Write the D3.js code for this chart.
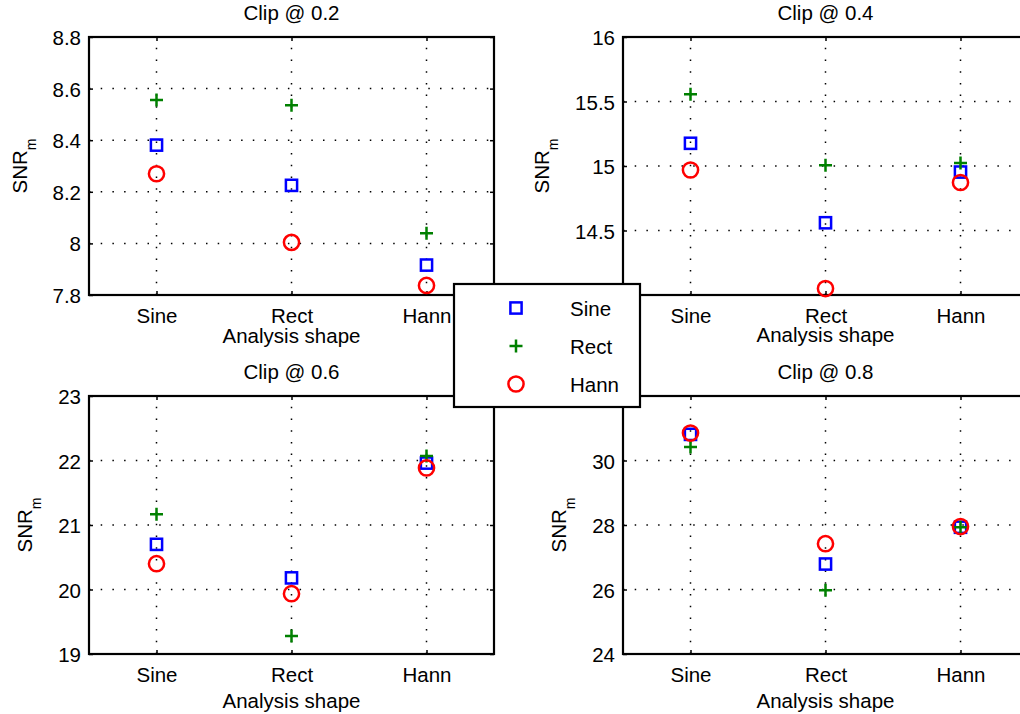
<!DOCTYPE html>
<html>
<head>
<meta charset="utf-8">
<script src="https://cdn.jsdelivr.net/npm/d3@7"></script>
<style>
  body { margin: 0; background: #fff; }
  svg { display: block; font-family: "Liberation Sans", Arial, sans-serif; }
</style>
</head>
<body>
<div id="chart"></div>
<script>
// categories on the x axis of every panel
const shapes = ["Sine", "Rect", "Hann"];
const clipLevels = ["0.2", "0.4", "0.6", "0.8"];
const seriesNames = ["Sine", "Rect", "Hann"];

// SNR_m values, one row per clip level, one value per analysis shape
const snrSine = [
    [8.381, 8.225, 7.916],
    [15.176, 14.560, 14.953],
    [20.70, 20.18, 21.96],
    [30.81, 26.79, 27.93]
];
const snrRect = [
    [8.556, 8.535, 8.039],
    [15.556, 15.006, 15.024],
    [21.166, 19.28, 22.07],
    [30.42, 25.98, 27.93]
];
const snrHann = [
    [8.270, 8.004, 7.837],
    [14.969, 14.050, 14.872],
    [20.40, 19.935, 21.885],
    [30.85, 27.42, 27.95]
];

const yDomains = [[7.8, 8.8], [14, 16], [19, 23], [24, 32]];
const yTicks = [
    [7.8, 8, 8.2, 8.4, 8.6, 8.8],
    [14, 14.5, 15, 15.5, 16],
    [19, 20, 21, 22, 23],
    [24, 26, 28, 30, 32]
];

const W = 1020, H = 714;
const pw = 405, ph = 258;
// panel frames (left, top) and x label offset below axis
const frames = [
    { left: 89, top: 37, xlab: 48 },
    { left: 623, top: 37, xlab: 47 },
    { left: 89, top: 396, xlab: 54 },
    { left: 623, top: 396, xlab: 54 }
];
const colors = { Sine: "#0000ff", Rect: "#008000", Hann: "#ff0000" };
const fs = 20.5;

const svg = d3.select("#chart").append("svg")
    .attr("width", W)
    .attr("height", H);

const x = d3.scalePoint().domain(shapes).range([0, pw]).padding(0.5);
const fmt = d3.format("~g");

function drawMarker(sel, name) {
    const c = colors[name];
    if (name === "Sine") {
        sel.append("rect")
            .attr("x", -5.6).attr("y", -5.6)
            .attr("width", 11.2).attr("height", 11.2)
            .attr("fill", "none").attr("stroke", c).attr("stroke-width", 2.5);
    } else if (name === "Rect") {
        sel.append("path")
            .attr("d", "M-6.5,0H6.5M0,-6.5V6.5")
            .attr("stroke", c).attr("stroke-width", 2.5);
    } else {
        sel.append("circle")
            .attr("r", 7.6)
            .attr("fill", "none").attr("stroke", c).attr("stroke-width", 2.5);
    }
}

clipLevels.forEach((clip, i) => {
    const f = frames[i];
    const y = d3.scaleLinear().domain(yDomains[i]).range([ph, 0]);
    const g = svg.append("g").attr("transform", `translate(${f.left},${f.top})`);

    // dotted grid
    const grid = g.append("g")
        .attr("stroke", "#000")
        .attr("stroke-width", 1.5)
        .attr("stroke-dasharray", "1.5,10.2");
    grid.selectAll(".hg")
        .data(yTicks[i].filter(t => t > yDomains[i][0] && t < yDomains[i][1]))
        .enter().append("line")
        .attr("x1", 0).attr("x2", pw)
        .attr("y1", d => y(d)).attr("y2", d => y(d));
    grid.selectAll(".vg")
        .data(shapes)
        .enter().append("line")
        .attr("y1", ph).attr("y2", 0)
        .attr("x1", d => x(d)).attr("x2", d => x(d));

    // axes with inward ticks
    const yAxis = g.append("g")
        .call(d3.axisLeft(y).tickValues(yTicks[i]).tickFormat(fmt).tickSize(-4).tickPadding(8));
    g.append("g").attr("transform", `translate(${pw},0)`)
        .call(d3.axisRight(y).tickValues(yTicks[i]).tickFormat("").tickSize(-4));
    const xAxis = g.append("g").attr("transform", `translate(0,${ph})`)
        .call(d3.axisBottom(x).tickSize(-4));
    g.append("g")
        .call(d3.axisTop(x).tickFormat("").tickSize(-4));
    g.selectAll(".domain").remove();
    g.selectAll(".tick line").attr("stroke", "#000").attr("stroke-width", 1.5);
    yAxis.selectAll("text")
        .attr("font-size", fs).attr("fill", "#000")
        .attr("dy", null).attr("dominant-baseline", "central");
    xAxis.selectAll("text")
        .attr("font-size", fs).attr("fill", "#000")
        .attr("dy", null).attr("y", 28);

    // box
    g.append("rect")
        .attr("width", pw).attr("height", ph)
        .attr("fill", "none").attr("stroke", "#000").attr("stroke-width", 2.2);

    // title and labels
    g.append("text")
        .attr("x", pw / 2).attr("y", -17)
        .attr("text-anchor", "middle")
        .attr("font-size", fs)
        .text("Clip @ " + clip);
    g.append("text")
        .attr("x", pw / 2).attr("y", ph + f.xlab)
        .attr("text-anchor", "middle")
        .attr("font-size", fs)
        .text("Analysis shape");

    const labLeft = yAxis.node().getBBox().x;
    const ylab = g.append("text")
        .attr("transform", `translate(${labLeft - 26},${ph / 2}) rotate(-90)`)
        .attr("text-anchor", "middle")
        .attr("font-size", fs);
    ylab.append("tspan").text("SNR");
    ylab.append("tspan").attr("dy", 9).attr("font-size", 14).text("m");

    // markers, drawn in legend order
    const seriesVals = { Sine: snrSine[i], Rect: snrRect[i], Hann: snrHann[i] };
    seriesNames.forEach(name => {
        g.append("g").selectAll(".pt")
            .data(shapes.map((s, k) => ({ s: s, v: seriesVals[name][k] })))
            .enter().append("g")
            .attr("transform", d => `translate(${x(d.s)},${y(d.v)})`)
            .each(function () { drawMarker(d3.select(this), name); });
    });
});

// legend on top
const leg = svg.append("g").attr("transform", "translate(454,284)");
leg.append("rect")
    .attr("width", 186).attr("height", 123)
    .attr("fill", "#fff").attr("stroke", "#000").attr("stroke-width", 2.2);
seriesNames.forEach((name, k) => {
    const row = leg.append("g").attr("transform", `translate(0,${24 + k * 38})`);
    drawMarker(row.append("g").attr("transform", "translate(62,0)"), name);
    row.append("text")
        .attr("x", 116).attr("dominant-baseline", "central")
        .attr("font-size", fs)
        .text(name);
});
</script>
</body>
</html>
